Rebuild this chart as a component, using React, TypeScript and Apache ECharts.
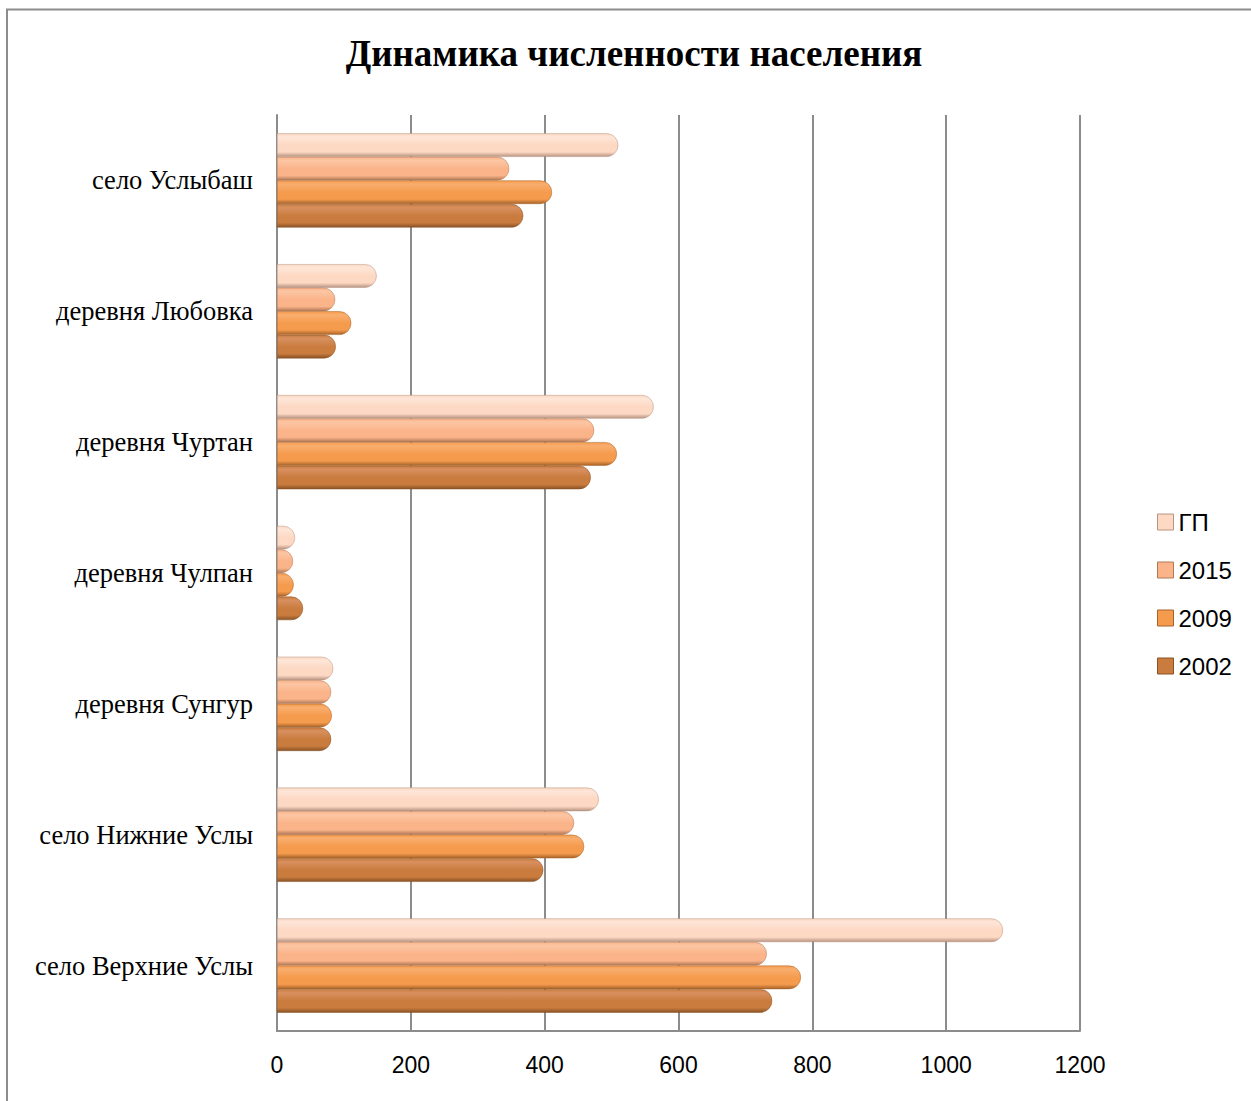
import React, { useEffect, useRef } from "react";
import * as echarts from "echarts";

const categories = [
  "село Верхние Услы",
  "село Нижние Услы",
  "деревня Сунгур",
  "деревня Чулпан",
  "деревня Чуртан",
  "деревня Любовка",
  "село Услыбаш",
];
const seriesNames = ["ГП", "2015", "2009", "2002"];
const values2002 = [740, 398, 81, 39, 469, 88, 368];
const values2009 = [783, 459, 82, 25, 508, 111, 411];
const values2015 = [732, 444, 81, 24, 474, 87, 347];
const valuesGP = [1085, 481, 84, 27, 563, 149, 510];
const xTicks = [0, 200, 400, 600, 800, 1000, 1200];

const palettes: Record<string, [string, string, string]> = {
  "2002": ["#d99060", "#c97c3e", "#8a5225"],
  "2009": ["#f9ae6e", "#f59b4e", "#a86328"],
  "2015": ["#fcc6a3", "#fbb48a", "#b07856"],
  "ГП": ["#fee6d8", "#fdd8c3", "#b79482"],
};

function grad(name: string) {
  const [l, m, d] = palettes[name];
  return new echarts.graphic.LinearGradient(0, 0, 0, 1, [
    { offset: 0, color: m },
    { offset: 0.15, color: l },
    { offset: 0.5, color: m },
    { offset: 0.8, color: m },
    { offset: 1, color: d },
  ]);
}

export default function App() {
  const ref = useRef<HTMLDivElement>(null);
  useEffect(() => {
    if (!ref.current) return;
    const chart = echarts.init(ref.current, null, { renderer: "svg" });
    const data: Record<string, number[]> = {
      "2002": values2002,
      "2009": values2009,
      "2015": values2015,
      "ГП": valuesGP,
    };
    chart.setOption({
      animation: false,
      backgroundColor: "#ffffff",
      title: {
        text: "Динамика численности населения",
        left: 629,
        textAlign: "center",
        top: 30,
        textStyle: {
          fontFamily: "Liberation Serif",
          fontWeight: "bold",
          fontSize: 37,
          color: "#000",
        },
      },
      graphic: [
        {
          type: "rect",
          shape: { x: 7, y: 9.5, width: 1400, height: 1400 },
          style: { fill: "none", stroke: "#8c8c8c", lineWidth: 2 },
          silent: true,
        },
      ],
      legend: {
        orient: "vertical",
        left: 1152,
        top: 505,
        itemWidth: 16,
        itemHeight: 16,
        itemGap: 24,
        data: seriesNames.map((n) => ({
          name: n,
          itemStyle: { color: palettes[n][1], borderColor: palettes[n][2], borderWidth: 1 },
        })),
        icon: "rect",
        textStyle: {
          fontFamily: "Liberation Sans",
          fontSize: 24,
          color: "#000",
        },
      },
      grid: { left: 277, top: 115, right: 171, bottom: 70 },
      xAxis: {
        type: "value",
        min: 0,
        max: 1200,
        interval: 200,
        axisLine: { show: true, lineStyle: { color: "#8c8c8c", width: 2 } },
        axisTick: { show: false },
        splitLine: { show: true, lineStyle: { color: "#8c8c8c", width: 2 } },
        axisLabel: {
          margin: 22,
          fontFamily: "Liberation Sans",
          fontSize: 23,
          color: "#000",
          formatter: (v: number) => (xTicks.includes(v) ? String(v) : ""),
        },
      },
      yAxis: {
        type: "category",
        data: categories,
        axisLine: { show: true, lineStyle: { color: "#8c8c8c", width: 2 } },
        axisTick: { show: false },
        axisLabel: {
          margin: 24,
          fontFamily: "Liberation Serif",
          fontSize: 26.5,
          color: "#000",
        },
      },
      series: seriesNames.map((n) => ({
        name: n,
        type: "bar",
        data: data[n],
        barGap: "0%",
        barCategoryGap: "28%",
        itemStyle: {
          color: grad(n),
          borderRadius: [0, 12, 12, 0],
          borderColor: palettes[n][2],
          borderWidth: 0.5,
        },
      })),
    });
    return () => chart.dispose();
  }, []);
  return (
    <div
      ref={ref}
      style={{ position: "absolute", left: 0, top: 0, width: 1251, height: 1101 }}
    />
  );
}
